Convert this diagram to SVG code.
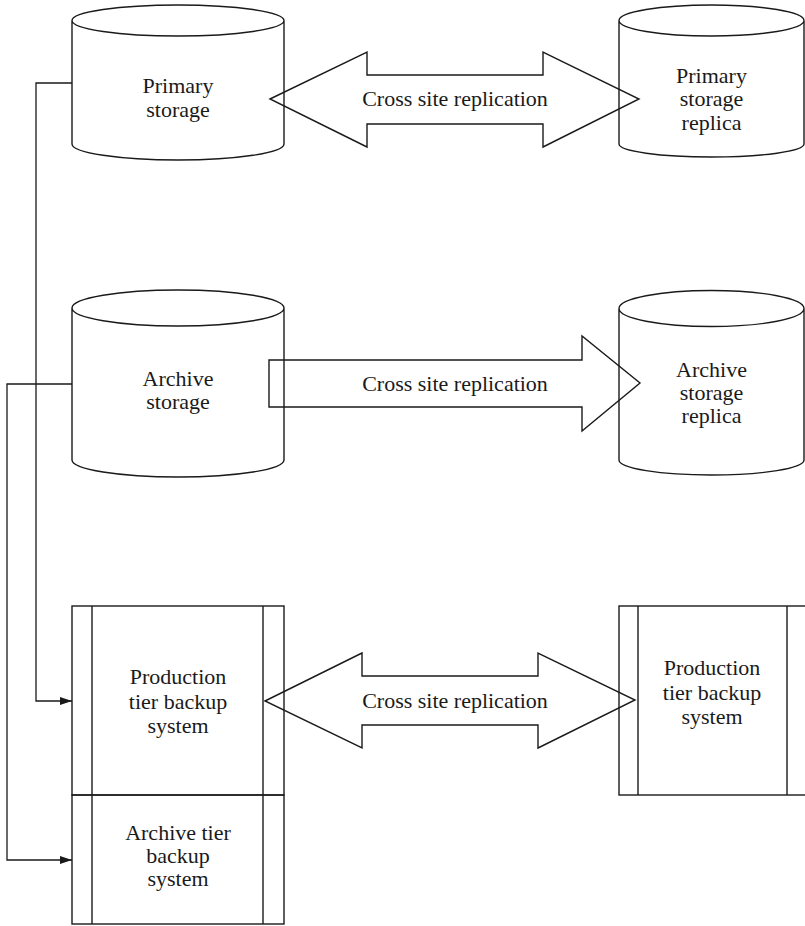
<svg xmlns="http://www.w3.org/2000/svg" width="805" height="926" viewBox="0 0 805 926">
  <style>
    .shape { fill: none; stroke: #1a1a1a; stroke-width: 1.4; stroke-linejoin: miter; }
    .wire { fill: none; stroke: #1a1a1a; stroke-width: 1.3; }
    .label { font-family: "Liberation Serif", "Times New Roman", serif; font-size: 22px; fill: #1a1a1a; text-anchor: middle; }
  </style>
  <defs>
    <marker id="tip" viewBox="0 0 12 8" refX="12" refY="4" markerWidth="12" markerHeight="8" markerUnits="userSpaceOnUse" orient="auto">
      <path d="M0,0 L12,4 L0,8 Z" fill="#1a1a1a"/>
    </marker>
  </defs>
  <rect width="805" height="926" fill="#ffffff"/>

  <!-- Connectors from storage to backup tiers -->
  <g id="connectors">
    <path class="wire" d="M72,83 H36 V701 H72" marker-end="url(#tip)"/>
    <path class="wire" d="M72,384 H7 V860 H72" marker-end="url(#tip)"/>
  </g>

  <!-- Replication arrows -->
  <g id="replication-primary">
    <polygon class="shape" points="270,99 367,52 367,75 543,75 543,52 639,99 543,147 543,124 367,124 367,147"/>
    <text class="label" x="455" y="106">Cross site replication</text>
  </g>
  <g id="replication-archive">
    <polygon class="shape" points="269,360 582,360 582,336 640,383 582,431 582,407 269,407"/>
    <text class="label" x="455" y="391">Cross site replication</text>
  </g>
  <g id="replication-backup">
    <polygon class="shape" points="265,701 362,653 362,676 538,676 538,653 635,700 538,748 538,725 362,725 362,748"/>
    <text class="label" x="455" y="708">Cross site replication</text>
  </g>

  <!-- Storage cylinders -->
  <g id="primary-storage">
    <path class="shape" d="M72,20.5 A106,15.5 0 0 1 284,20.5 A106,15.5 0 0 1 72,20.5 Z M72,20.5 V144 A106,16 0 0 0 284,144 V20.5"/>
    <text class="label" x="178" y="93">Primary</text>
    <text class="label" x="178" y="117">storage</text>
  </g>
  <g id="primary-storage-replica">
    <path class="shape" d="M619,20.5 A92.5,15.5 0 0 1 804,20.5 A92.5,15.5 0 0 1 619,20.5 Z M619,20.5 V144 A92.5,13 0 0 0 804,144 V20.5"/>
    <text class="label" x="711.5" y="83">Primary</text>
    <text class="label" x="711.5" y="106">storage</text>
    <text class="label" x="711.5" y="130">replica</text>
  </g>
  <g id="archive-storage">
    <path class="shape" d="M72,308 A106,18 0 0 1 284,308 A106,18 0 0 1 72,308 Z M72,308 V460 A106,17 0 0 0 284,460 V308"/>
    <text class="label" x="178" y="386">Archive</text>
    <text class="label" x="178" y="409">storage</text>
  </g>
  <g id="archive-storage-replica">
    <path class="shape" d="M619,308.5 A92.5,18 0 0 1 804,308.5 A92.5,18 0 0 1 619,308.5 Z M619,308.5 V460 A92.5,15 0 0 0 804,460 V308.5"/>
    <text class="label" x="711.5" y="377">Archive</text>
    <text class="label" x="711.5" y="400">storage</text>
    <text class="label" x="711.5" y="423">replica</text>
  </g>

  <!-- Backup systems -->
  <g id="production-backup">
    <rect class="shape" x="72" y="606" width="212" height="189"/>
    <line class="shape" x1="92" y1="606" x2="92" y2="795"/>
    <line class="shape" x1="263" y1="606" x2="263" y2="795"/>
    <text class="label" x="178" y="684">Production</text>
    <text class="label" x="178" y="709">tier backup</text>
    <text class="label" x="178" y="733">system</text>
  </g>
  <g id="archive-backup">
    <rect class="shape" x="72" y="795" width="212" height="129"/>
    <line class="shape" x1="92" y1="795" x2="92" y2="924"/>
    <line class="shape" x1="263" y1="795" x2="263" y2="924"/>
    <text class="label" x="178" y="840">Archive tier</text>
    <text class="label" x="178" y="863">backup</text>
    <text class="label" x="178" y="886">system</text>
  </g>
  <g id="production-backup-replica">
    <rect class="shape" x="619" y="606" width="207" height="189"/>
    <line class="shape" x1="638" y1="606" x2="638" y2="795"/>
    <line class="shape" x1="787" y1="606" x2="787" y2="795"/>
    <text class="label" x="712" y="675">Production</text>
    <text class="label" x="712" y="700">tier backup</text>
    <text class="label" x="712" y="724">system</text>
  </g>
</svg>
